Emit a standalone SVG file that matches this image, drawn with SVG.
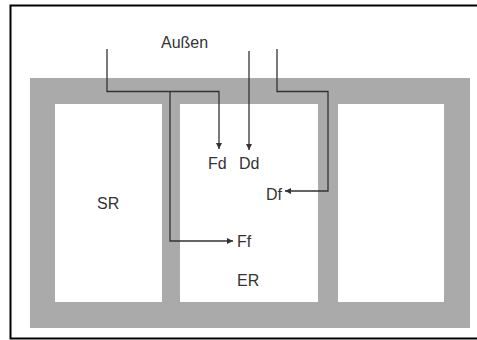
<svg xmlns="http://www.w3.org/2000/svg" width="477" height="340" viewBox="0 0 477 340">
<defs>
<style>
.lbl{font-family:"Liberation Sans",Arial,sans-serif;font-size:16px;fill:#333}
.wire{fill:none;stroke:#333;stroke-width:1.3}
.room{fill:#fff}
</style>
<marker id="ah" viewBox="0 0 6 6" refX="6" refY="3" markerWidth="6" markerHeight="6" markerUnits="userSpaceOnUse" orient="auto">
<path d="M0,0 L6,3 L0,6 z" fill="#333"/>
</marker>
</defs>
<rect x="0" y="0" width="477" height="340" fill="#fff"/>
<rect x="10.5" y="5.5" width="472" height="333" fill="none" stroke="#000" stroke-width="2"/>
<g id="building">
<rect x="30" y="78" width="440" height="250" fill="#aaa"/>
</g>
<g id="SR">
<rect class="room" x="55" y="104" width="107" height="198"/>
<text class="lbl" x="97" y="209">SR</text>
</g>
<g id="ER">
<rect class="room" x="180" y="104" width="138" height="198"/>
<text class="lbl" x="237" y="286">ER</text>
</g>
<g id="room3">
<rect class="room" x="338" y="104" width="106" height="198"/>
</g>
<g id="aussen"><text class="lbl" x="161" y="48">Außen</text></g>
<g id="Fd"><text class="lbl" x="208" y="169">Fd</text></g>
<g id="Dd"><text class="lbl" x="239" y="169">Dd</text></g>
<g id="Df"><text class="lbl" x="266" y="200">Df</text></g>
<g id="Ff"><text class="lbl" x="237" y="247">Ff</text></g>
<g id="connectors">
<path class="wire" d="M107,49 V91.5 H219 V149" marker-end="url(#ah)"/>
<path class="wire" d="M170,91.5 V241 H233" marker-end="url(#ah)"/>
<path class="wire" d="M249,51 V150" marker-end="url(#ah)"/>
<path class="wire" d="M277,49 V91.5 H328 V191 H285" marker-end="url(#ah)"/>
</g>
</svg>
